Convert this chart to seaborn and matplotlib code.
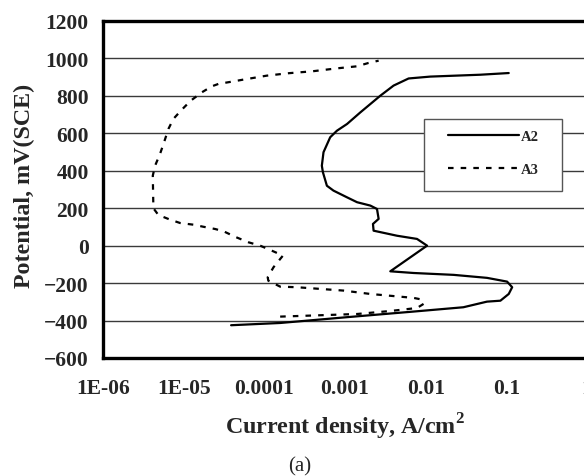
import matplotlib
matplotlib.use("Agg")
import matplotlib.pyplot as plt
from matplotlib.patches import Rectangle
import pandas as pd
import seaborn as sns

# ---- data ----
a2_current = [3.87e-5, 1.57e-4, 1.06e-3, 7.08e-3, 2.93e-2, 5.75e-2, 8.43e-2, 0.107, 0.118, 0.102,
              5.75e-2, 2.22e-2, 7.08e-3, 3.64e-3, 1.04e-2, 7.80e-3, 4.41e-3, 2.26e-3, 2.22e-3, 2.61e-3,
              2.49e-3, 2.06e-3, 1.41e-3, 1.06e-3, 7.19e-4, 5.96e-4, 5.32e-4, 5.16e-4, 5.41e-4, 6.55e-4,
              7.94e-4, 1.06e-3, 1.55e-3, 2.74e-3, 4.00e-3, 6.14e-3, 1.14e-2, 4.75e-2, 0.107]
a2_potential = [-425, -413, -382, -352, -329, -299, -294, -258, -222, -192,
                -172, -156, -146, -137, 0, 36, 53, 80, 116, 143,
                196, 214, 232, 258, 294, 320, 392, 427, 499, 579,
                614, 650, 712, 801, 855, 893, 903, 913, 922]

a3_current = [1.57e-4, 1.41e-3, 3.64e-3, 7.80e-3, 9.42e-3, 8.99e-3, 7.08e-3, 2.06e-3, 9.57e-4, 2.53e-4,
              1.57e-4, 1.12e-4, 1.10e-4, 1.30e-4, 1.70e-4, 1.24e-4, 8.87e-5, 6.35e-5, 4.47e-5, 3.11e-5,
              2.45e-5, 1.75e-5, 1.32e-5, 9.02e-6, 6.78e-6, 4.85e-6, 4.21e-6, 4.14e-6, 4.42e-6, 5.09e-6,
              5.71e-6, 6.46e-6, 7.45e-6, 9.46e-6, 1.22e-5, 1.68e-5, 2.23e-5, 2.70e-5, 3.95e-5, 5.51e-5,
              1.07e-4, 1.99e-4, 3.88e-4, 7.94e-4, 1.41e-3, 1.96e-3, 2.61e-3]
a3_potential = [-379, -365, -349, -333, -311, -288, -279, -258, -240, -222,
                -219, -187, -169, -115, -53, -27, 0, 18, 45, 77,
                89, 101, 112, 121, 139, 164, 200, 374, 427, 490,
                552, 623, 677, 726, 774, 819, 851, 864, 876, 887,
                908, 921, 931, 947, 958, 976, 988]

series_names = ["A2", "A3"]
x_tick_values = [1e-6, 1e-5, 1e-4, 1e-3, 1e-2, 1e-1, 1]
x_tick_labels = ["1E-06", "1E-05", "0.0001", "0.001", "0.01", "0.1", "1"]
y_tick_values = [-600, -400, -200, 0, 200, 400, 600, 800, 1000, 1200]

df = pd.concat([
    pd.DataFrame({"current": a2_current, "potential": a2_potential, "series": series_names[0]}),
    pd.DataFrame({"current": a3_current, "potential": a3_potential, "series": series_names[1]}),
], ignore_index=True)

sns.set_style("white")
plt.rcParams["font.family"] = ["Liberation Serif", "DejaVu Serif"]
plt.rcParams["mathtext.fontset"] = "custom"
plt.rcParams["mathtext.rm"] = "Liberation Serif"
plt.rcParams["mathtext.bf"] = "Liberation Serif:bold"

fig = plt.figure(figsize=(5.84, 4.77), dpi=100)
ax = fig.add_axes([0.1764, 0.2474, 0.8288, 0.7065])

sns.lineplot(data=df, x="current", y="potential", hue="series", style="series",
             sort=False, estimator=None, palette=["black", "black"],
             dashes={"A2": "", "A3": (2.5, 3.2)}, linewidth=1.6, ax=ax)

ax.set_xscale("log")
ax.set_xlim(1e-6, 1)
ax.set_ylim(-600, 1200)
ax.set_xticks(x_tick_values)
ax.set_xticklabels(x_tick_labels)
ax.minorticks_off()
ax.set_yticks(y_tick_values)
ax.yaxis.grid(True, color="#3a3a3a", linewidth=1.0)
ax.xaxis.grid(False)
ax.set_axisbelow(True)

for lab in ax.get_xticklabels() + ax.get_yticklabels():
    lab.set_fontweight("bold")
    lab.set_fontsize(15.5)
ax.tick_params(axis="both", direction="out", length=4.3, width=1, color="black")
ax.tick_params(axis="x", pad=10)
ax.tick_params(axis="y", pad=6)

for side in ["left", "bottom", "top", "right"]:
    ax.spines[side].set_linewidth(2.4)
    ax.spines[side].set_color("black")

ax.set_xlabel("Current density, A/cm$^\\mathbf{2}$", fontsize=17.3, fontweight="bold", labelpad=9)
ax.set_ylabel("Potential, mV(SCE)", fontsize=17.3, fontweight="bold", labelpad=5)
ax.yaxis.set_label_coords(-0.1395, 0.513)

# legend box
ax.add_patch(Rectangle((0.6632, 0.4955), 0.2851, 0.2137, transform=ax.transAxes,
                       facecolor="white", edgecolor="#555555", linewidth=1.0, zorder=3))
handles, labels = ax.get_legend_handles_labels()
leg = ax.legend(handles, labels, loc="upper left", bbox_to_anchor=(0.7128, 0.677),
                frameon=False, prop={"family": "Liberation Serif", "weight": "bold", "size": 10.5},
                handlelength=4.86, handletextpad=0.15, labelspacing=1.37,
                borderpad=0, borderaxespad=0)
leg.set_zorder(4)

fig.text(0.514, 1 - 467 / 477, "(a)", fontsize=15, ha="center", va="center")

fig.savefig("out.png", dpi=100)
